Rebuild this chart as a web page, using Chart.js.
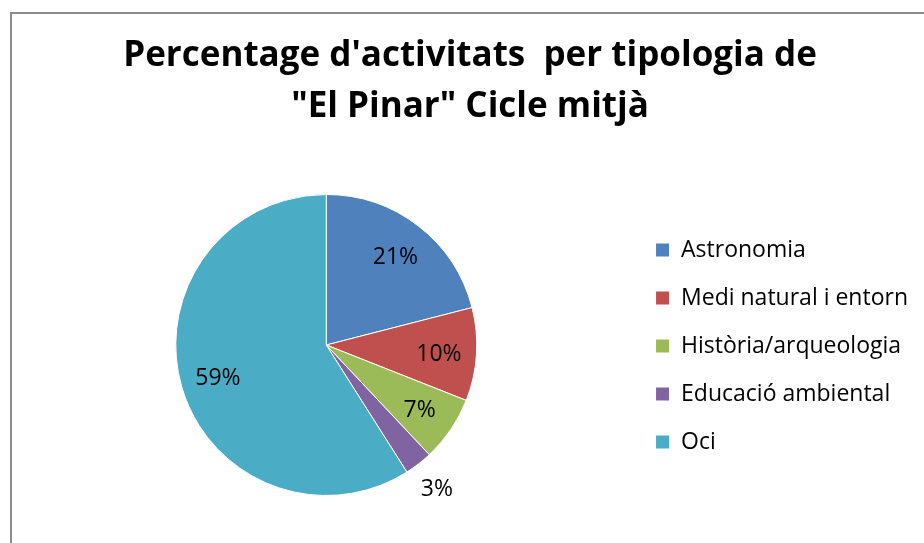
<!DOCTYPE html>
<html>
<head>
<meta charset="utf-8">
<script src="https://cdn.jsdelivr.net/npm/chart.js@4"></script>
<style>
  html, body { margin: 0; padding: 0; background: #fff; overflow: hidden; }
  #frame {
    position: absolute; left: 10px; top: 12px;
    border-left: 2px solid #8c8c8c; border-top: 2px solid #8c8c8c;
    width: 940px; height: 560px; background: #fff;
  }
  canvas { display: block; }
</style>
</head>
<body>
<div id="frame"><canvas id="pieChart" width="924" height="529"></canvas></div>
<script>
// Percentage of activities per type, "El Pinar" middle cycle
const categories = ["Astronomia", "Medi natural i entorn", "Història/arqueologia", "Educació ambiental", "Oci"];
const percentages = [21, 10, 7, 3, 59];
const sliceColors = ["#4F81BD", "#C0504D", "#9BBB59", "#8064A2", "#4BACC6"];
const titleLines = ["Percentage d'activitats  per tipologia de", "\"El Pinar\" Cicle mitjà"];

const fontFamily = "'Open Sans', Lato, sans-serif";

// simple data labels: inside the slice, small slices outside
const sliceLabels = {
    id: "sliceLabels",
    afterDatasetsDraw(chart) {
        const ctx = chart.ctx;
        const meta = chart.getDatasetMeta(0);
        ctx.save();
        ctx.font = "23px " + fontFamily;
        ctx.fillStyle = "#000";
        ctx.textAlign = "center";
        ctx.textBaseline = "middle";
        meta.data.forEach((arc, i) => {
            const p = arc.getProps(["x", "y", "startAngle", "endAngle", "outerRadius"], true);
            const mid = (p.startAngle + p.endAngle) / 2;
            const value = chart.data.datasets[0].data[i];
            const r = value < 5 ? p.outerRadius + 30 : p.outerRadius * 0.75;
            ctx.fillText(value + "%", p.x + Math.cos(mid) * r, p.y + Math.sin(mid) * r + 2);
        });
        ctx.restore();
    },
};

new Chart(document.getElementById("pieChart"), {
    type: "pie",
    data: {
        labels: categories,
        datasets: [
            {
                data: percentages,
                backgroundColor: sliceColors,
                borderColor: "#ffffff",
                borderWidth: 1,
            },
        ],
    },
    options: {
        responsive: false,
        animation: false,
        devicePixelRatio: 1,
        layout: { padding: { left: 10, right: 18, bottom: 47, top: 0 } },
        plugins: {
            title: {
                display: true,
                text: titleLines,
                color: "#000",
                font: { family: fontFamily, size: 35, weight: "bold", lineHeight: 51 / 35 },
                padding: { top: 17, bottom: 61 },
            },
            legend: {
                position: "right",
                // empty legend title only used to push the entries down
                title: {
                    display: true,
                    text: " ",
                    font: { size: 10, lineHeight: 1 },
                    padding: { top: 86, bottom: 86 },
                },
                labels: {
                    boxWidth: 14,
                    boxHeight: 14,
                    padding: 25,
                    color: "#000",
                    font: { family: fontFamily, size: 23 },
                },
            },
            tooltip: { enabled: false },
        },
    },
    plugins: [sliceLabels],
});
</script>
</body>
</html>
